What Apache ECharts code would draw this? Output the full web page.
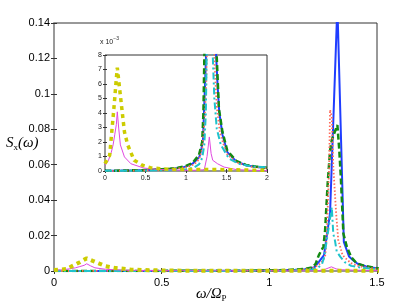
<!DOCTYPE html>
<html><head><meta charset="utf-8">
<script src="https://cdn.jsdelivr.net/npm/echarts@6/dist/echarts.min.js"></script>
<style>html,body{margin:0;padding:0;background:#fff}#c{width:415px;height:306px}</style>
</head><body><div id="c"></div>
<script>
// values in units of 1e-3
var blueX  = [0,0.2,0.4,0.6,0.8,0.9,0.96,1.0,1.08,1.12,1.165,1.19,1.21,1.23,1.254,1.282,1.316,1.346,1.37,1.39,1.41,1.45,1.51,1.62,1.74,1.87,2.0];
var blueY  = [0.02,0.03,0.05,0.08,0.14,0.2,0.25,0.32,0.5,0.7,0.97,1.5,2.2,5.2,9,32.7,150,16.4,8.2,5.9,4.1,2.5,1.3,0.66,0.4,0.28,0.2];
var greenX = [0,0.2,0.4,0.6,0.8,0.9,1.0,1.08,1.16,1.2,1.215,1.23,1.251,1.259,1.271,1.282,1.29,1.316,1.325,1.332,1.344,1.36,1.38,1.406,1.45,1.51,1.62,1.74,1.87,2.0];
var greenY = [0.02,0.03,0.05,0.09,0.15,0.22,0.35,0.55,1.1,2.0,4.0,9,13.7,23,49.5,68,74,82.4,68,53,21,13.7,7.8,4.3,2.7,1.4,0.7,0.42,0.3,0.22];
var redX   = [0,0.4,0.8,1.0,1.1,1.16,1.2,1.23,1.25,1.26,1.267,1.278,1.282,1.29,1.297,1.31,1.32,1.34,1.36,1.38,1.42,1.5,1.62,1.8,2.0];
var redY   = [0.01,0.03,0.1,0.25,0.45,0.8,1.5,3.5,6,9,21,60,91,87,59,33,17.5,9,6.5,4.4,2.6,1.2,0.6,0.3,0.2];
var cyanX  = [0,0.4,0.8,1.0,1.1,1.16,1.2,1.226,1.245,1.255,1.27,1.29,1.297,1.305,1.313,1.33,1.35,1.38,1.43,1.53,1.65,1.8,2.0];
var cyanY  = [0.01,0.02,0.06,0.12,0.25,0.45,0.9,1.8,4,8,20,36,21,17,11,8,5.0,2.9,1.8,0.86,0.5,0.33,0.25];
var magX   = [0,0.04,0.078,0.1,0.12,0.14,0.152,0.17,0.19,0.24,0.32,0.48,0.64,0.8,1.0,1.1,1.2,1.226,1.26,1.288,1.31,1.33,1.39,1.47,1.62,1.8,2.0];
var magY   = [0.4,0.7,1.3,1.8,2.5,3.2,4.08,2.9,1.8,0.97,0.5,0.2,0.12,0.08,0.05,0.05,0.08,0.1,1.0,2.35,1.2,0.74,0.5,0.27,0.1,0.05,0.03];
var yelX   = [0,0.058,0.078,0.1,0.12,0.14,0.152,0.18,0.21,0.24,0.28,0.36,0.46,0.56,0.68,0.8,1.0,1.2,1.4,1.6,1.8,2.0];
var yelY   = [0.51,1.09,2.35,3.7,5.0,6.4,7.12,5.7,4.2,2.7,1.8,0.74,0.4,0.23,0.16,0.12,0.1,0.1,0.1,0.08,0.06,0.05];
var mainXTicks = [0,0.5,1,1.5];
var mainYTicks = [0,0.02,0.04,0.06,0.08,0.1,0.12,0.14];

function pairs(xs, ys){ return xs.map(function(x,i){ return [x, ys[i]/1000]; }); }

var styles = [
  {name:'blue',  x:blueX,  y:blueY,  color:'#1f3dff', width:2,   type:'solid'},
  {name:'green', x:greenX, y:greenY, color:'#138a13', width:2.5, type:[6,3]},
  {name:'red',   x:redX,   y:redY,   color:'#ff6a5a', width:1.8, type:[1.5,2]},
  {name:'cyan',  x:cyanX,  y:cyanY,  color:'#1fc3cc', width:2,   type:[7,3,2,3]},
  {name:'mag',   x:magX,   y:magY,   color:'#e048e0', width:1,   type:'solid'},
  {name:'yel',   x:yelX,   y:yelY,   color:'#cccc00', width:4,   type:[4,4]}
];

var series = [];
styles.forEach(function(s){
  [0,1].forEach(function(g){
    series.push({
      type:'line', name:s.name, data:pairs(s.x,s.y), xAxisIndex:g*2, yAxisIndex:g*2,
      showSymbol:false, symbol:'none', clip:true, animation:false, silent:true,
      lineStyle:{color:s.color, width:(g===1 && s.width>2.5)? 3.5 : s.width, type:s.type, cap:'butt'},
      z: 2 + g*10
    });
  });
});

var labFont = {color:'#000', fontSize:11, fontFamily:'Liberation Sans'};
var insFont = {color:'#222', fontSize:7, fontFamily:'Liberation Sans'};

var chart = echarts.init(document.getElementById('c'), null, {renderer:'canvas'});
chart.setOption({
  animation:false,
  backgroundColor:'#fff',
  grid:[
    {left:54, top:23, width:323, height:248, show:true, borderColor:'#333', borderWidth:1, backgroundColor:'#fff'},
    {left:105, top:55, width:162, height:116, show:true, borderColor:'#333', borderWidth:1, backgroundColor:'#fff', z:10}
  ],
  xAxis:[
    {gridIndex:0, type:'value', min:0, max:1.5, interval:0.5, position:'bottom',
     axisLine:{show:false}, axisTick:{inside:true, length:3, lineStyle:{color:'#333'}},
     splitLine:{show:false}, axisLabel:Object.assign({margin:6, formatter:function(v){return String(v);}}, labFont)},
    {gridIndex:0, type:'value', min:0, max:1.5, interval:0.5, position:'top',
     axisLine:{show:false}, axisTick:{inside:true, length:3, lineStyle:{color:'#333'}},
     splitLine:{show:false}, axisLabel:{show:false}},
    {gridIndex:1, type:'value', min:0, max:2, interval:0.5, position:'bottom', z:11,
     axisLine:{show:false}, axisTick:{inside:true, length:2, lineStyle:{color:'#333'}},
     splitLine:{show:false}, axisLabel:Object.assign({margin:4}, insFont)},
    {gridIndex:1, type:'value', min:0, max:2, interval:0.5, position:'top', z:11,
     axisLine:{show:false}, axisTick:{inside:true, length:2, lineStyle:{color:'#333'}},
     splitLine:{show:false}, axisLabel:{show:false}}
  ],
  yAxis:[
    {gridIndex:0, type:'value', min:0, max:0.14, interval:0.02, position:'left',
     axisLine:{show:true, lineStyle:{color:'#999', width:2}}, axisTick:{inside:true, length:3, lineStyle:{color:'#333'}},
     splitLine:{show:false}, axisLabel:Object.assign({margin:4, formatter:function(v){return String(+v.toFixed(2));}}, labFont)},
    {gridIndex:0, type:'value', min:0, max:0.14, interval:0.02, position:'right',
     axisLine:{show:false}, axisTick:{inside:true, length:3, lineStyle:{color:'#333'}},
     splitLine:{show:false}, axisLabel:{show:false}},
    {gridIndex:1, type:'value', min:0, max:0.008, interval:0.001, position:'left', z:11,
     axisLine:{show:false}, axisTick:{inside:true, length:2, lineStyle:{color:'#333'}},
     splitLine:{show:false}, axisLabel:Object.assign({margin:3, formatter:function(v){return String(Math.round(v*1000));}}, insFont)},
    {gridIndex:1, type:'value', min:0, max:0.008, interval:0.001, position:'right', z:11,
     axisLine:{show:false}, axisTick:{inside:true, length:2, lineStyle:{color:'#333'}},
     splitLine:{show:false}, axisLabel:{show:false}}
  ],
  series:series,
  graphic:[
    {type:'text', left:6, top:136, z:100, style:{
      text:'{s|S}{b|x}{s|(ω)}',
      rich:{
        s:{fontFamily:'Liberation Serif', fontStyle:'italic', fontSize:15, fill:'#000', lineHeight:18, verticalAlign:'middle'},
        b:{fontFamily:'Liberation Serif', fontSize:9, fill:'#000', lineHeight:18, verticalAlign:'bottom', padding:[4,0,0,0]}
      }}},
    {type:'text', left:196, top:287, z:100, style:{
      text:'{s|ω/Ω}{b|P}',
      rich:{
        s:{fontFamily:'Liberation Serif', fontStyle:'italic', fontSize:15, fill:'#000', lineHeight:18, verticalAlign:'middle'},
        b:{fontFamily:'Liberation Serif', fontSize:9, fill:'#000', lineHeight:18, verticalAlign:'bottom', padding:[4,0,0,0]}
      }}},
    {type:'text', left:100, top:36, z:100, style:{
      text:'{a|x 10}{b|−3}',
      rich:{
        a:{fontFamily:'Liberation Sans', fontSize:7, fill:'#222', lineHeight:10, padding:[3,0,0,0]},
        b:{fontFamily:'Liberation Sans', fontSize:5, fill:'#222', lineHeight:10, padding:[0,0,4,0]}
      }}}
  ]
});
</script></body></html>
